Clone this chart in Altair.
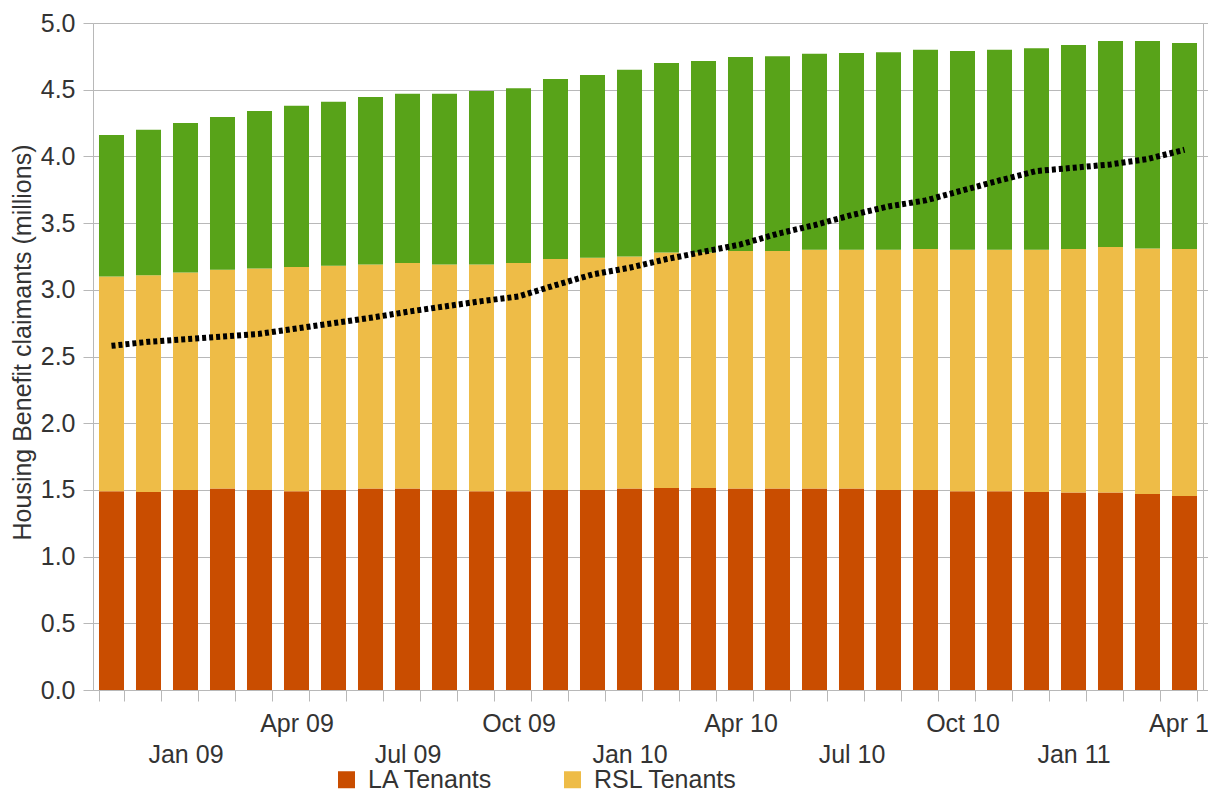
import json
import altair as alt
import pandas as pd

months = ["Nov 08", "Dec 08", "Jan 09", "Feb 09", "Mar 09", "Apr 09", "May 09", "Jun 09",
          "Jul 09", "Aug 09", "Sep 09", "Oct 09", "Nov 09", "Dec 09", "Jan 10", "Feb 10",
          "Mar 10", "Apr 10", "May 10", "Jun 10", "Jul 10", "Aug 10", "Sep 10", "Oct 10",
          "Nov 10", "Dec 10", "Jan 11", "Feb 11", "Mar 11", "Apr 11"]

la_tenants = [1.49, 1.485, 1.50, 1.51, 1.50, 1.49, 1.50, 1.51, 1.51, 1.50,
              1.49, 1.49, 1.50, 1.50, 1.51, 1.515, 1.515, 1.51, 1.51, 1.51,
              1.51, 1.50, 1.50, 1.49, 1.49, 1.485, 1.48, 1.48, 1.47, 1.455]

rsl_tenants = [1.61, 1.625, 1.63, 1.64, 1.66, 1.68, 1.68, 1.68, 1.69, 1.69,
               1.70, 1.71, 1.73, 1.74, 1.74, 1.765, 1.765, 1.78, 1.78, 1.79,
               1.79, 1.80, 1.805, 1.81, 1.81, 1.815, 1.825, 1.84, 1.84, 1.85]

private_tenants = [1.06, 1.09, 1.12, 1.145, 1.18, 1.21, 1.23, 1.255, 1.27, 1.28,
                   1.30, 1.31, 1.35, 1.37, 1.40, 1.42, 1.435, 1.455, 1.46, 1.47,
                   1.475, 1.48, 1.495, 1.49, 1.50, 1.51, 1.53, 1.545, 1.555, 1.545]

line_values = [2.58, 2.61, 2.63, 2.65, 2.67, 2.71, 2.75, 2.79, 2.835, 2.875,
               2.915, 2.95, 3.035, 3.115, 3.165, 3.23, 3.285, 3.34, 3.42, 3.485,
               3.56, 3.625, 3.67, 3.745, 3.82, 3.89, 3.915, 3.94, 3.98, 4.05]

series_names = ["LA Tenants", "RSL Tenants", "Private Tenants"]
series_colors = ["#C94D00", "#EEBC47", "#58A319"]
legend_entries = ["LA Tenants", "RSL Tenants"]

y_ticks = [0.0, 0.5, 1.0, 1.5, 2.0, 2.5, 3.0, 3.5, 4.0, 4.5, 5.0]
upper_labels = ["Apr 09", "Oct 09", "Apr 10", "Oct 10", "Apr 11"]
lower_labels = ["Jan 09", "Jul 09", "Jan 10", "Jul 10", "Jan 11"]

rows = []
for k, (name, vals) in enumerate(zip(series_names, [la_tenants, rsl_tenants, private_tenants])):
    for m, v in zip(months, vals):
        rows.append({"month": m, "series": name, "value": v, "order": k})
bars_df = pd.DataFrame(rows)
line_df = pd.DataFrame({"month": months, "value": line_values})

TEXT = "#333333"
GRID = "#b8b8b8"
FONT = "Liberation Sans"

label_expr = (
    f"indexof({json.dumps(upper_labels)}, datum.value) >= 0 ? datum.value : "
    f"(indexof({json.dumps(lower_labels)}, datum.value) >= 0 ? ['', datum.value] : '')"
)

x_scale = alt.Scale(paddingInner=0.324, paddingOuter=0.162)
y_scale = alt.Scale(domain=[0, 5], nice=False)

bars = alt.Chart(bars_df).mark_bar().encode(
    x=alt.X("month:N", sort=months, scale=x_scale,
            axis=alt.Axis(title=None, labelExpr=label_expr, labelAngle=0,
                          labelFontSize=25, labelColor=TEXT, labelFont=FONT,
                          labelOverlap=False, labelBound=False, labelPadding=10,
                          labelLineHeight=31, labelBaseline="top",
                          tickBand="extent", tickSize=11, tickColor=GRID,
                          domainColor=GRID, grid=False)),
    y=alt.Y("value:Q", stack="zero", scale=y_scale,
            axis=alt.Axis(values=y_ticks, format=".1f", labelFontSize=25,
                          labelColor=TEXT, labelFont=FONT, labelPadding=8,
                          tickSize=10, tickColor=GRID, domainColor=GRID,
                          gridColor=GRID, grid=True,
                          title="Housing Benefit claimants (millions)",
                          titleFont=FONT, titleFontSize=25, titleFontWeight="normal",
                          titleColor=TEXT, titleAngle=270, titleX=-71, titleY=319,
                          titleAlign="center", titleBaseline="middle")),
    color=alt.Color("series:N",
                    scale=alt.Scale(domain=series_names, range=series_colors),
                    legend=alt.Legend(values=legend_entries, title=None, orient="none",
                                      direction="horizontal", legendX=241, legendY=744,
                                      symbolType="square", symbolSize=289,
                                      symbolStrokeWidth=0, symbolOpacity=1,
                                      labelFontSize=25, labelFont=FONT, labelColor=TEXT,
                                      labelOffset=9, columnPadding=66)),
    order=alt.Order("order:Q"),
)

line = alt.Chart(line_df).mark_line(
    color="black", strokeWidth=6, strokeDash=[4, 3], strokeCap="butt"
).encode(
    x=alt.X("month:N", sort=months),
    y=alt.Y("value:Q", scale=y_scale,
            axis=alt.Axis(orient="right", values=y_ticks, labels=False, tickSize=5,
                          tickColor=GRID, domainColor=GRID, grid=False, title=None)),
)

chart = alt.layer(bars, line).resolve_scale(y="independent").properties(
    width=1110, height=667,
    autosize=alt.AutoSizeParams(type="none"),
    padding={"left": 85, "top": 15, "right": 5, "bottom": 104},
).configure_view(stroke=GRID, strokeWidth=1).configure(font=FONT)

chart.save("out.html", embed_options={"renderer": "svg", "actions": False})
